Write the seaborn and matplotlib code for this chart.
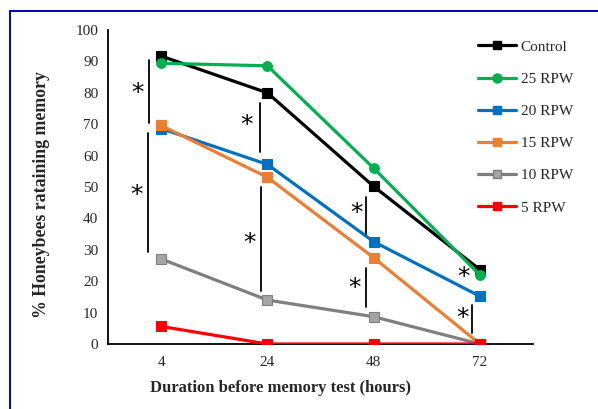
import numpy as np
import pandas as pd
import matplotlib
matplotlib.use("Agg")
import matplotlib.pyplot as plt
from matplotlib.patches import Rectangle
from matplotlib.lines import Line2D
import seaborn as sns

# ---- data ----
durations = ["4", "24", "48", "72"]
series_names = ["Control", "25 RPW", "20 RPW", "15 RPW", "10 RPW", "5 RPW"]
control = [91.7, 80.0, 50.2, 23.7]
rpw25 = [89.4, 88.6, 56.0, 22.0]
rpw20 = [68.6, 57.2, 32.6, 15.2]
rpw15 = [69.6, 53.1, 27.5, 0.0]
rpw10 = [27.1, 14.0, 8.7, 0.0]
rpw5 = [5.6, 0.0, 0.0, 0.0]
all_values = [control, rpw25, rpw20, rpw15, rpw10, rpw5]

# significance annotations (category index, offset, line y0, line y1, star offset, star y)
sig_cat = [0, 0, 1, 1, 2, 2, 3, 3]
sig_line_off = [-0.113, -0.122, -0.065, -0.06, -0.07, -0.07, None, -0.075]
sig_y0 = [70.4, 29.4, 61.2, 17.0, 34.7, 11.9, None, 3.6]
sig_y1 = [90.4, 67.2, 76.8, 50.0, 46.9, 24.1, None, 12.3]
sig_star_off = [-0.225, -0.235, -0.2, -0.17, -0.165, -0.18, -0.155, -0.165]
sig_star_y = [80.0, 47.5, 69.7, 32.2, 41.7, 17.8, 21.2, 8.2]

# ---- build table ----
rows = []
for name, vals in zip(series_names, all_values):
    for i, (d, v) in enumerate(zip(durations, vals)):
        rows.append({"series": name, "pos": i, "duration": d, "value": v})
df = pd.DataFrame(rows)

colors = {"Control": "#000000", "25 RPW": "#00b050", "20 RPW": "#0070c0",
          "15 RPW": "#ed7d31", "10 RPW": "#7f7f7f", "5 RPW": "#ff0000"}
markers = {"Control": "s", "25 RPW": "o", "20 RPW": "s", "15 RPW": "s",
           "10 RPW": "s", "5 RPW": "s"}
mfc = {"Control": "#000000", "25 RPW": "#00b050", "20 RPW": "#0070c0",
       "15 RPW": "#ed7d31", "10 RPW": "#a5a5a5", "5 RPW": "#ff0000"}

sns.set_style("white")
plt.rcParams['font.family'] = ['Liberation Serif', 'DejaVu Serif']

fig = plt.figure(figsize=(5.98, 4.09), dpi=100)
ax = fig.add_axes([108/598, 1-344/409, 425/598, 314/409])

sns.lineplot(data=df, x="pos", y="value", hue="series", style="series",
             hue_order=series_names, style_order=series_names,
             palette=colors, markers=markers, dashes=False, linewidth=2.3,
             markersize=6.5, markeredgewidth=0.8, legend=False, ax=ax)

# marker fills (gray has lighter fill)
for line, name in zip(ax.get_lines(), series_names):
    line.set_markerfacecolor(mfc[name])
    line.set_markeredgecolor(colors[name])
    if name == "25 RPW":
        line.set_markersize(7)

ax.set_xlim(-0.5, 3.5)
ax.set_ylim(0, 100)
ax.set_xticks(range(len(durations)))
ax.set_xticklabels(durations, fontsize=11, color="#262626")
ax.set_xticks([-0.5, 0.5, 1.5, 2.5, 3.5], minor=True)
ax.set_yticks(range(0, 101, 10))
ax.set_yticklabels([str(v) for v in range(0, 101, 10)], fontsize=11, color="#262626")
ax.tick_params(axis="x", which="major", direction="out", length=5, width=1.2, color="black", pad=4)
ax.tick_params(axis="x", which="minor", direction="in", length=5, width=1.2, color="black")
ax.tick_params(axis="y", which="major", direction="out", length=5, width=1.2, color="black", pad=2)
ax.set_xlabel("")
ax.set_ylabel("")
for s in ["top", "right"]:
    ax.spines[s].set_visible(False)
for s in ["left", "bottom"]:
    ax.spines[s].set_color("black")
    ax.spines[s].set_linewidth(1.3)
ax.spines["left"].set_zorder(0)
ax.spines["bottom"].set_zorder(1)

# significance marks
for c, lo, y0, y1, so, sy in zip(sig_cat, sig_line_off, sig_y0, sig_y1, sig_star_off, sig_star_y):
    if lo is not None:
        ax.plot([c + lo, c + lo], [y0, y1], color="black", lw=1.3, zorder=1)
    ax.text(c + so, sy, "*", fontsize=18, ha="center", va="center", color="black",
            family=["DejaVu Sans"])

# legend
handles = [Line2D([0], [0], color=colors[n], lw=2.3, marker=markers[n],
                  markersize=6 if n != "25 RPW" else 6.5,
                  markerfacecolor=mfc[n], markeredgecolor=colors[n])
           for n in series_names]
fig.legend(handles, series_names, loc="upper left",
           bbox_to_anchor=(478/598, 1-40/409), frameon=False,
           fontsize=11, handlelength=2.5, handletextpad=0.3,
           labelspacing=1.21, borderpad=0, borderaxespad=0)

# axis titles
fig.text(281/598, 1-388/409, "Duration before memory test (hours)", ha="center",
         va="center", fontsize=12, fontweight="bold")
fig.text(42/598, 1-195/409, "% Honeybees rataining memory", ha="center",
         va="center", rotation=90, fontsize=12.8, fontweight="bold")

# outer frame
fig.patches.append(Rectangle((9.5/598, -0.2), 1.2, 1.2 - 11/409,
                             transform=fig.transFigure, fill=False,
                             edgecolor="#0000c0", lw=1.4))

fig.savefig("out.png", dpi=100)
